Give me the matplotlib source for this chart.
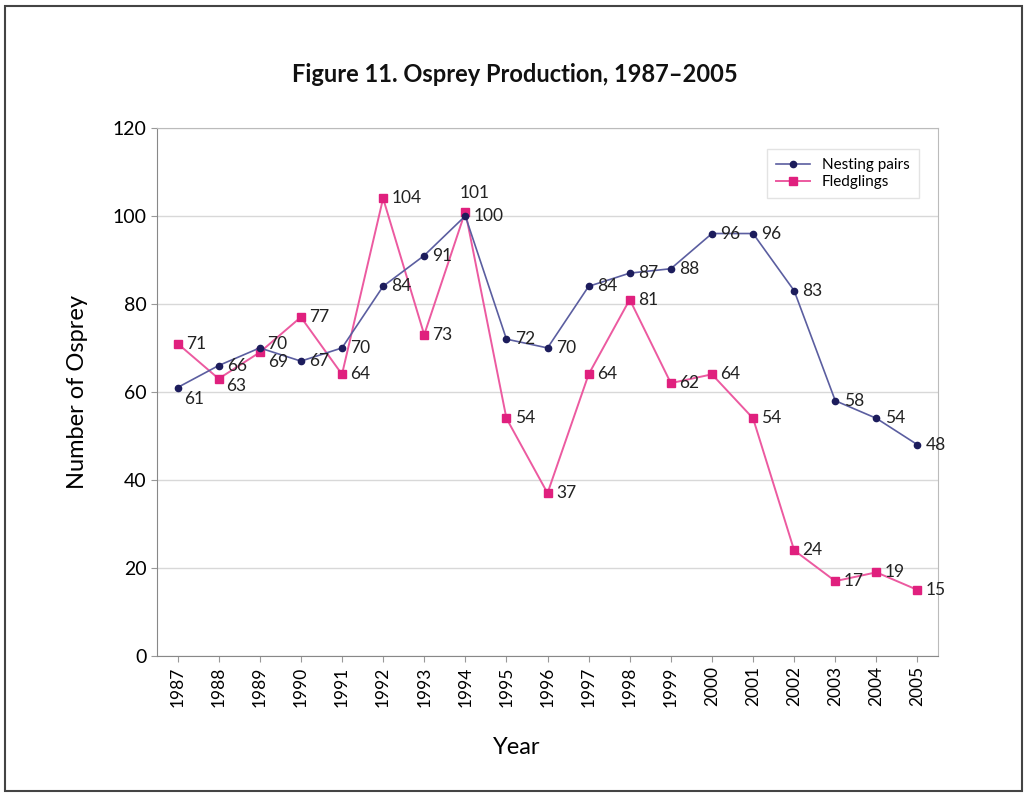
import numpy as np
import matplotlib.pyplot as plt

plt.rcParams['font.family'] = ['Lato', 'DejaVu Sans']

years = [str(y) for y in range(1987, 2006)]
nesting_pairs = [61, 66, 70, 67, 70, 84, 91, 100, 72, 70, 84, 87, 88, 96, 96, 83, 58, 54, 48]
fledglings = [71, 63, 69, 77, 64, 104, 73, 101, 54, 37, 64, 81, 62, 64, 54, 24, 17, 19, 15]

fig = plt.figure(figsize=(10.29, 7.97), dpi=100)
ax = fig.add_axes([0.1526, 0.177, 0.759, 0.6625])

x = np.arange(len(years))
ax.plot(x, nesting_pairs, '-', color='#5b5ea0', lw=1.2, marker='o', ms=4.5,
        mfc='#1c1c5c', mec='#1c1c5c', label='Nesting pairs', zorder=3)
ax.plot(x, fledglings, '-', color='#ec5aa0', lw=1.4, marker='s', ms=6,
        mfc='#e0207e', mec='#e0207e', label='Fledglings', zorder=2)

# label offsets in points (dx, dy); default to the right of the marker
def label(vals, special):
    for i, v in enumerate(vals):
        dx, dy = special.get(i, (6, 0))
        ax.annotate(str(v), (i, v), xytext=(dx, dy), textcoords='offset points',
                    ha='left', va='center', fontsize=12.5, color='#222222', zorder=4)

label(nesting_pairs, {0: (5, -8), 2: (5, 3)})
label(fledglings, {1: (5, -5), 2: (6, -7), 7: (-4, 13)})

ax.set_xlim(-0.5, len(years) - 0.5)
ax.set_ylim(0, 120)
ax.set_yticks(range(0, 121, 20))
ax.set_xticks(x)
ax.set_xticklabels(years, rotation=90, fontsize=12.5)
ax.tick_params(axis='y', labelsize=14, length=4, color='#999999')
ax.tick_params(axis='x', length=4, color='#999999')
ax.yaxis.grid(True, color='#d8d8d8', lw=1)
ax.set_axisbelow(True)
for s in ax.spines.values():
    s.set_color('#bbbbbb')
ax.spines['left'].set_color('#888888')
ax.spines['bottom'].set_color('#888888')

ax.set_ylabel('Number of Osprey', fontsize=17, labelpad=18)
ax.set_xlabel('Year', fontsize=17, labelpad=22)
ax.xaxis.label.set_x(0.46)
fig.text(0.5, 0.897, 'Figure 11. Osprey Production, 1987\u20132005', ha='center',
         fontsize=17, fontweight='bold', color='#111111')

leg = ax.legend(loc='upper right', bbox_to_anchor=(0.985, 0.975), fontsize=11,
                frameon=True, fancybox=False, handlelength=2.2, borderpad=0.6,
                labelspacing=0.2)
leg.get_frame().set_edgecolor('#dddddd')

# outer frame of the picture
fig.patches.append(plt.Rectangle((0.005, 0.008), 0.988, 0.985, transform=fig.transFigure,
                                 fill=False, edgecolor='#444444', lw=1.5))

fig.savefig('out.png', dpi=100)
